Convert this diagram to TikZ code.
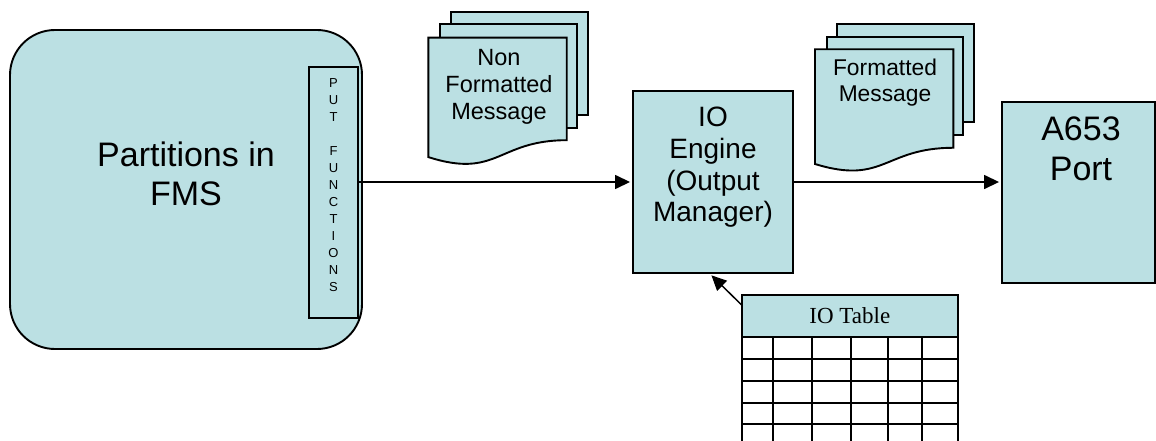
\documentclass[tikz,border=0pt]{standalone}
\usepackage{fontspec}
\setmainfont{Liberation Sans}
\newfontfamily\timesfont{Liberation Serif}
\usetikzlibrary{arrows.meta,calc}
\definecolor{boxfill}{HTML}{BBE0E3}
\tikzset{
  box/.style={draw=black, fill=boxfill, line width=1.9pt, inner sep=0pt},
  conn/.style={line width=1.5pt, shorten >=2pt, -{Triangle[length=15pt,width=14pt]}},
  lbl/.style={inner sep=0pt, align=center, anchor=base},
  grid/.style={line width=1.6pt},
}
\newcommand\drawdoc[4]{%
  \filldraw[box] (#1,#2) -- ({#1+#3},#2) -- ({#1+#3},{#2+0.802*#4})
    .. controls ({#1+0.5*#3},{#2+0.802*#4}) and ({#1+0.5*#3},{#2+1.1075*#4}) ..
    (#1,{#2+0.934*#4}) -- cycle;}
\begin{document}
\begin{tikzpicture}[x=1pt,y=-1pt]
\useasboundingbox (0,0) rectangle (1156,441);
% Partitions in FMS
\node[box, rounded corners=45pt, minimum width=352pt, minimum height=319pt] (fms) at (186,189.5) {};
\node[lbl, font=\fontsize{34}{39}\selectfont] (fmstext) at (186,205) {Partitions in\\FMS};
\node[box, line width=1.6pt, minimum width=49pt, minimum height=251pt] (put) at (333.5,192.5) {};
\node[lbl, font=\fontsize{13}{17}\selectfont] (puttext) at (333.5,291.7) {P\\U\\T\\[17pt]F\\U\\N\\C\\T\\I\\O\\N\\S};
% Non formatted message stack
\filldraw[box] (450.7,11.7) rectangle (588,115);
\filldraw[box] (440,24.3) rectangle (576.7,128);
\drawdoc{428.3}{37.7}{138.4}{127.8}
\node[lbl, font=\fontsize{23.5}{27}\selectfont] (nfm) at (499,120) {Non\\Formatted\\Message};
% IO Engine
\node[box, minimum width=160pt, minimum height=182pt] (eng) at (713,182) {};
\node[lbl, font=\fontsize{28}{31.7}\selectfont] (engtext) at (713,221.7) {IO\\Engine\\(Output\\Manager)};
% Formatted message stack
\filldraw[box] (837.3,24) rectangle (974,121.7);
\filldraw[box] (826.7,36.7) rectangle (963.3,135);
\drawdoc{815}{49.3}{138.3}{122.8}
\node[lbl, font=\fontsize{22.8}{26}\selectfont] (fm) at (885,101.7) {Formatted\\Message};
% A653 Port
\node[box, minimum width=153pt, minimum height=181pt] (port) at (1078.5,192.5) {};
\node[lbl, font=\fontsize{34}{40}\selectfont] (porttext) at (1081,180) {A653\\Port};
% IO Table
\node[box, line width=1.6pt, minimum width=216.3pt, minimum height=42pt, font=\timesfont\fontsize{23}{26}\selectfont] (hdr) at (849.85,316) {IO Table};
\foreach \yy in {359,381,403,424} {\draw[grid] (741.7,\yy) -- (958,\yy);}
\foreach \xx in {741.7,773,812,851,888,922,958} {\draw[grid] (\xx,337) -- (\xx,441);}
% connectors
\draw[conn] (put.east |- eng.west) -- (eng.west);
\draw[conn] (eng.east) -- (eng.east -| port.west);
\coordinate (tabtail) at (741.7,305);
\draw[conn] (tabtail) -- ($(eng.south)+(-3,0)$);
\end{tikzpicture}
\end{document}
